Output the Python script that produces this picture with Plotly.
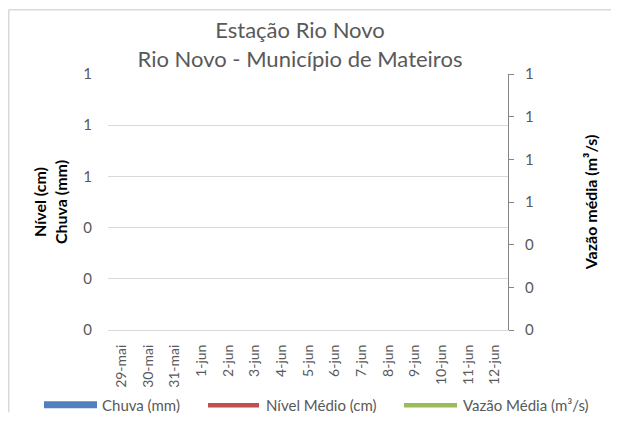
import plotly.graph_objects as go

categories = ["29-mai", "30-mai", "31-mai", "1-jun", "2-jun", "3-jun", "4-jun",
              "5-jun", "6-jun", "7-jun", "8-jun", "9-jun", "10-jun", "11-jun", "12-jun"]
chuva = [None] * len(categories)
nivel = [None] * len(categories)
vazao = [None] * len(categories)
legend_names = ["Chuva (mm)", "Nível Médio (cm)", "Vazão Média (m³/s)"]
colors = ["#4F81BD", "#C0504D", "#9BBB59"]

FONT = "Lato"
GRAY = "#595959"

# figure geometry (the page body adds an 8px offset)
W, H = 603, 405
L, T = 100, 65.5
PW, PH = 400, 257
R, B = W - L - PW, H - T - PH


def px(xp):
    return (xp - L) / PW


def py(yp):
    return (H - B - yp) / PH


fig = go.Figure()
fig.add_trace(go.Bar(x=categories, y=chuva, name=legend_names[0],
                     marker_color=colors[0], showlegend=False))
fig.add_trace(go.Scatter(x=categories, y=nivel, name=legend_names[1], mode="lines",
                         line=dict(color=colors[1], width=4), showlegend=False))
fig.add_trace(go.Scatter(x=categories, y=vazao, name=legend_names[2], mode="lines",
                         line=dict(color=colors[2], width=4), yaxis="y2",
                         showlegend=False))

border = dict(color="#D9D9D9", width=1.5)
shapes = [
    dict(type="line", xref="paper", yref="paper", x0=px(0.75), x1=px(W),
         y0=py(1.0), y1=py(1.0), line=border, layer="below"),
    dict(type="line", xref="paper", yref="paper", x0=px(0.75), x1=px(0.75),
         y0=py(1.0), y1=py(H), line=border, layer="below"),
]
# legend keys
shapes.append(dict(type="rect", xref="paper", yref="paper",
                   x0=px(36), x1=px(89), y0=py(401), y1=py(394),
                   fillcolor=colors[0], line=dict(width=0)))
shapes.append(dict(type="line", xref="paper", yref="paper",
                   x0=px(200), x1=px(251), y0=py(398), y1=py(398),
                   line=dict(color=colors[1], width=4.5)))
shapes.append(dict(type="line", xref="paper", yref="paper",
                   x0=px(396), x1=px(449), y0=py(398), y1=py(398),
                   line=dict(color=colors[2], width=4.5)))
annotations = []
for name, xs in zip(legend_names, [92, 256, 453]):
    annotations.append(dict(text=name, xref="paper", yref="paper", x=px(xs), y=py(397.5),
                            xanchor="left", yanchor="middle", showarrow=False,
                            font=dict(size=15, color=GRAY, family=FONT)))

fig.update_layout(
    width=W, height=H,
    margin=dict(l=L, r=R, t=T, b=B, autoexpand=False),
    paper_bgcolor="white", plot_bgcolor="white",
    font=dict(family=FONT, size=14, color=GRAY),
    showlegend=False,
    title=dict(text="Estação Rio Novo<br>Rio Novo - Município de Mateiros",
               x=px(292), xref="paper", xanchor="center",
               y=1 - 30 / H, yref="container", yanchor="top",
               font=dict(family=FONT, size=22, color=GRAY)),
    xaxis=dict(type="category", categoryarray=categories, range=[-0.5, 14.5],
               showline=True, linecolor="#D9D9D9", linewidth=1, automargin=False,
               tickangle=-90, ticks="", showgrid=False, ticklabelstandoff=8,
               tickfont=dict(size=14, color=GRAY)),
    yaxis=dict(range=[0, 1], dtick=0.2, tick0=0, tickformat=".0f", automargin=False,
               showgrid=True, gridcolor="#D9D9D9", zeroline=False,
               showline=False, ticks="", ticklabelstandoff=15,
               tickfont=dict(size=15, color=GRAY),
               title=dict(text="<b>Nível (cm)<br>Chuva (mm)</b>",
                          font=dict(size=16, color="black"), standoff=11)),
    yaxis2=dict(range=[0, 1.2], dtick=0.2, tick0=0, tickformat=".0f", automargin=False,
                overlaying="y", side="right", showgrid=False, zeroline=False,
                showline=True, linecolor="#868686", linewidth=1,
                ticks="outside", ticklen=5, tickcolor="#868686", ticklabelstandoff=8,
                tickfont=dict(size=15, color=GRAY),
                title=dict(text="<b>Vazão média (m³/s)</b>",
                           font=dict(size=16, color="black"), standoff=52)),
    shapes=shapes,
    annotations=annotations,
)

fig.write_html("out.html")
